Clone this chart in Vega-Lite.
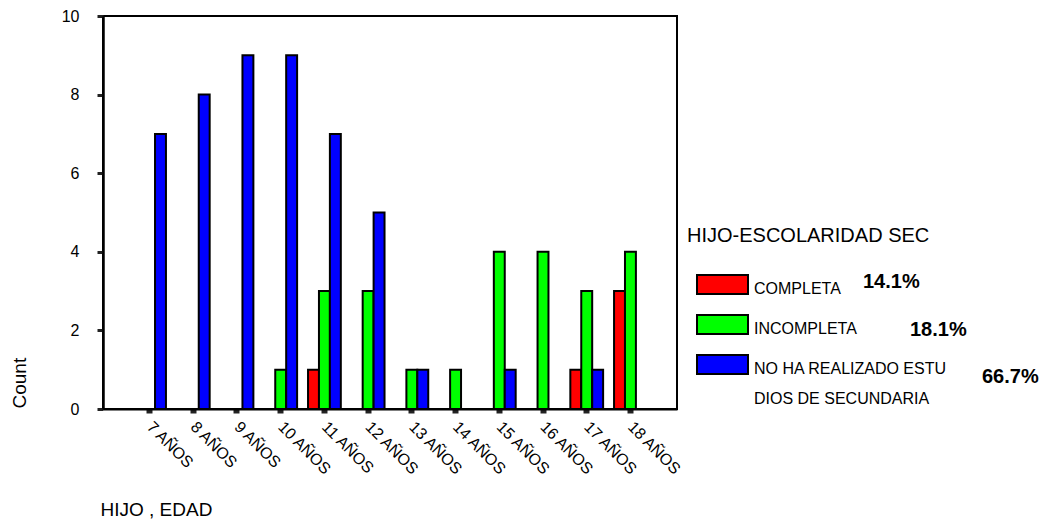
{
  "$schema": "https://vega.github.io/schema/vega-lite/v6.json",
  "width": 574,
  "height": 393,
  "autosize": {"type": "none"},
  "padding": {"left": 103, "top": 16, "right": 366, "bottom": 111},
  "background": "white",
  "config": {
    "font": "Liberation Sans",
    "view": {"stroke": "#000", "strokeWidth": 2},
    "legend": {
      "padding": 0,
      "labelColor": "#000"
    }
  },
  "resolve": {
    "scale": {"shape": "independent"},
    "legend": {"shape": "independent"}
  },
  "layer": [
    {
      "data": {
        "values": [
          {"edad": "7 AÑOS", "grupo": "COMPLETA", "count": 0},
          {"edad": "7 AÑOS", "grupo": "INCOMPLETA", "count": 0},
          {"edad": "7 AÑOS", "grupo": "NO HA REALIZADO ESTUDIOS DE SECUNDARIA", "count": 7},
          {"edad": "8 AÑOS", "grupo": "COMPLETA", "count": 0},
          {"edad": "8 AÑOS", "grupo": "INCOMPLETA", "count": 0},
          {"edad": "8 AÑOS", "grupo": "NO HA REALIZADO ESTUDIOS DE SECUNDARIA", "count": 8},
          {"edad": "9 AÑOS", "grupo": "COMPLETA", "count": 0},
          {"edad": "9 AÑOS", "grupo": "INCOMPLETA", "count": 0},
          {"edad": "9 AÑOS", "grupo": "NO HA REALIZADO ESTUDIOS DE SECUNDARIA", "count": 9},
          {"edad": "10 AÑOS", "grupo": "COMPLETA", "count": 0},
          {"edad": "10 AÑOS", "grupo": "INCOMPLETA", "count": 1},
          {"edad": "10 AÑOS", "grupo": "NO HA REALIZADO ESTUDIOS DE SECUNDARIA", "count": 9},
          {"edad": "11 AÑOS", "grupo": "COMPLETA", "count": 1},
          {"edad": "11 AÑOS", "grupo": "INCOMPLETA", "count": 3},
          {"edad": "11 AÑOS", "grupo": "NO HA REALIZADO ESTUDIOS DE SECUNDARIA", "count": 7},
          {"edad": "12 AÑOS", "grupo": "COMPLETA", "count": 0},
          {"edad": "12 AÑOS", "grupo": "INCOMPLETA", "count": 3},
          {"edad": "12 AÑOS", "grupo": "NO HA REALIZADO ESTUDIOS DE SECUNDARIA", "count": 5},
          {"edad": "13 AÑOS", "grupo": "COMPLETA", "count": 0},
          {"edad": "13 AÑOS", "grupo": "INCOMPLETA", "count": 1},
          {"edad": "13 AÑOS", "grupo": "NO HA REALIZADO ESTUDIOS DE SECUNDARIA", "count": 1},
          {"edad": "14 AÑOS", "grupo": "COMPLETA", "count": 0},
          {"edad": "14 AÑOS", "grupo": "INCOMPLETA", "count": 1},
          {"edad": "14 AÑOS", "grupo": "NO HA REALIZADO ESTUDIOS DE SECUNDARIA", "count": 0},
          {"edad": "15 AÑOS", "grupo": "COMPLETA", "count": 0},
          {"edad": "15 AÑOS", "grupo": "INCOMPLETA", "count": 4},
          {"edad": "15 AÑOS", "grupo": "NO HA REALIZADO ESTUDIOS DE SECUNDARIA", "count": 1},
          {"edad": "16 AÑOS", "grupo": "COMPLETA", "count": 0},
          {"edad": "16 AÑOS", "grupo": "INCOMPLETA", "count": 4},
          {"edad": "16 AÑOS", "grupo": "NO HA REALIZADO ESTUDIOS DE SECUNDARIA", "count": 0},
          {"edad": "17 AÑOS", "grupo": "COMPLETA", "count": 1},
          {"edad": "17 AÑOS", "grupo": "INCOMPLETA", "count": 3},
          {"edad": "17 AÑOS", "grupo": "NO HA REALIZADO ESTUDIOS DE SECUNDARIA", "count": 1},
          {"edad": "18 AÑOS", "grupo": "COMPLETA", "count": 3},
          {"edad": "18 AÑOS", "grupo": "INCOMPLETA", "count": 4},
          {"edad": "18 AÑOS", "grupo": "NO HA REALIZADO ESTUDIOS DE SECUNDARIA", "count": 0}
        ]
      },
      "mark": {"type": "bar", "stroke": "#000", "strokeWidth": 2},
      "encoding": {
        "x": {
          "field": "edad",
          "type": "nominal",
          "sort": ["7 AÑOS", "8 AÑOS", "9 AÑOS", "10 AÑOS", "11 AÑOS", "12 AÑOS", "13 AÑOS", "14 AÑOS", "15 AÑOS", "16 AÑOS", "17 AÑOS", "18 AÑOS"],
          "scale": {"paddingInner": 0.25, "paddingOuter": 0.69},
          "axis": {
            "title": "HIJO , EDAD",
            "titleFontSize": 19,
            "titleFontWeight": "normal",
            "titleColor": "#000",
            "titleAnchor": "start",
            "titleAlign": "left",
            "titleBaseline": "alphabetic",
            "titleX": -3,
            "titleY": 106,
            "labelAngle": 45,
            "labelAlign": "left",
            "labelBaseline": "middle",
            "labelFontSize": 16,
            "labelColor": "#000",
            "labelPadding": 11,
            "tickSize": 4,
            "tickWidth": 6,
            "tickColor": "#222",
            "domainColor": "#000",
            "domainWidth": 2,
            "grid": false
          }
        },
        "xOffset": {
          "field": "grupo",
          "type": "nominal",
          "sort": ["COMPLETA", "INCOMPLETA", "NO HA REALIZADO ESTUDIOS DE SECUNDARIA"]
        },
        "y": {
          "field": "count",
          "type": "quantitative",
          "scale": {"domain": [0, 10], "nice": false},
          "axis": {
            "title": "Count",
            "titleFontSize": 19,
            "titleFontWeight": "normal",
            "titleColor": "#000",
            "titleAngle": -90,
            "titleAlign": "left",
            "titleBaseline": "alphabetic",
            "titleX": -78,
            "titleY": 392,
            "values": [0, 2, 4, 6, 8, 10],
            "labelFontSize": 16,
            "labelColor": "#000",
            "labelPadding": 18,
            "tickSize": 6,
            "tickWidth": 3,
            "tickColor": "#222",
            "domainColor": "#000",
            "domainWidth": 2.5,
            "grid": false
          }
        },
        "color": {
          "field": "grupo",
          "type": "nominal",
          "sort": ["COMPLETA", "INCOMPLETA", "NO HA REALIZADO ESTUDIOS DE SECUNDARIA"],
          "scale": {
            "domain": ["COMPLETA", "INCOMPLETA", "NO HA REALIZADO ESTUDIOS DE SECUNDARIA"],
            "range": ["#FF0000", "#00FF00", "#0000FF"]
          },
          "legend": {
            "title": "HIJO-ESCOLARIDAD SEC",
            "orient": "none",
            "legendX": 584,
            "legendY": 210,
            "direction": "vertical",
            "titleFontSize": 20,
            "titleFontWeight": "normal",
            "titleColor": "#000",
            "titleBaseline": "top",
            "titleLimit": 400,
            "titlePadding": 12,
            "symbolType": "M-1,-0.3725L1,-0.3725L1,0.3725L-1,0.3725Z",
            "symbolSize": 2601,
            "symbolStrokeColor": "#000",
            "symbolStrokeWidth": 2,
            "symbolOffset": 9,
            "labelFontSize": 16,
            "labelOffset": 5,
            "labelLimit": 400,
            "labelBaseline": "alphabetic",
            "rowPadding": -6.5,
            "labelExpr": "datum.label == 'NO HA REALIZADO ESTUDIOS DE SECUNDARIA' ? ['NO HA REALIZADO ESTU', 'DIOS DE SECUNDARIA'] : datum.label",
            "encode": {
              "labels": {"update": {"dy": {"value": 9}, "lineHeight": {"value": 30}}}
            }
          }
        }
      }
    },
    {
      "data": {"values": [{"pct": "14.1%"}]},
      "mark": {"type": "point", "opacity": 0, "filled": true},
      "encoding": {
        "shape": {
          "field": "pct",
          "type": "nominal",
          "legend": {
            "title": null,
            "orient": "none",
            "legendX": 740,
            "legendY": 262,
            "symbolSize": 0,
            "symbolOpacity": 0,
            "symbolStrokeWidth": 0,
            "labelFontSize": 20,
            "labelFontWeight": "bold",
            "labelOffset": 0,
            "labelBaseline": "alphabetic"
          }
        }
      }
    },
    {
      "data": {"values": [{"pct": "18.1%"}]},
      "mark": {"type": "point", "opacity": 0, "filled": true},
      "encoding": {
        "shape": {
          "field": "pct",
          "type": "nominal",
          "legend": {
            "title": null,
            "orient": "none",
            "legendX": 787,
            "legendY": 309.5,
            "symbolSize": 0,
            "symbolOpacity": 0,
            "symbolStrokeWidth": 0,
            "labelFontSize": 20,
            "labelFontWeight": "bold",
            "labelOffset": 0,
            "labelBaseline": "alphabetic"
          }
        }
      }
    },
    {
      "data": {"values": [{"pct": "66.7%"}]},
      "mark": {"type": "point", "opacity": 0, "filled": true},
      "encoding": {
        "shape": {
          "field": "pct",
          "type": "nominal",
          "legend": {
            "title": null,
            "orient": "none",
            "legendX": 859,
            "legendY": 357,
            "symbolSize": 0,
            "symbolOpacity": 0,
            "symbolStrokeWidth": 0,
            "labelFontSize": 20,
            "labelFontWeight": "bold",
            "labelOffset": 0,
            "labelBaseline": "alphabetic"
          }
        }
      }
    }
  ]
}
